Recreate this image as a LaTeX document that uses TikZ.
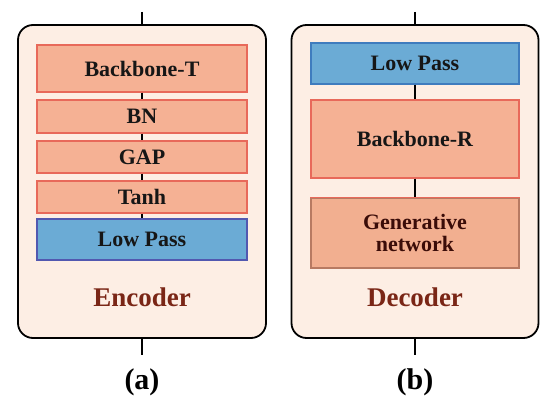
\documentclass[tikz,border=0pt]{standalone}
\usepackage{fontspec}
\newfontfamily\tnr{Liberation Serif}
\begin{document}
\begin{tikzpicture}[x=1pt,y=-1pt,
  panel/.style={draw=black,line width=1.8pt,fill=bgpeach,rounded corners=15pt,inner sep=0pt},
  salmon/.style={draw=salmonedge,line width=1.3pt,fill=salmonfill,inner sep=0pt,text=boxtext,
     font=\tnr\bfseries\fontsize{22}{24}\selectfont,align=center},
  bluebox/.style={draw=blueedge,line width=1.3pt,fill=bluefill,inner sep=0pt,text=boxtext,
     font=\tnr\bfseries\fontsize{22}{24}\selectfont},
  conn/.style={draw=black,line width=1.3pt},
  title/.style={font=\tnr\bfseries\fontsize{27}{30}\selectfont,text=titlered},
  sub/.style={font=\tnr\bfseries\fontsize{30}{32}\selectfont,text=black}]
\definecolor{bgpeach}{HTML}{FDEEE4}
\definecolor{salmonfill}{HTML}{F5B194}
\definecolor{salmonedge}{HTML}{E8695A}
\definecolor{genfill}{HTML}{F2AF90}
\definecolor{genedge}{HTML}{B87A62}
\definecolor{gentext}{HTML}{3A0C08}
\definecolor{bluefill}{HTML}{6BABD5}
\definecolor{blueedge}{HTML}{3F7CBE}
\definecolor{blueedgeB}{HTML}{5258B0}
\definecolor{boxtext}{HTML}{161616}
\definecolor{titlered}{HTML}{7A2616}
\useasboundingbox (0,0) rectangle (550,409);
% panels
\node[panel,minimum width=248pt,minimum height=313pt] (enc) at (142,181.5) {};
\node[panel,minimum width=247pt,minimum height=313pt] (dec) at (415,181.5) {};
% free ends
\coordinate (encin) at (142,12);
\coordinate (encout) at (142,355);
\coordinate (decin) at (415,12);
\coordinate (decout) at (415,355);
% encoder boxes
\node[salmon,minimum width=210pt,minimum height=47pt] (bt) at (142,68.5) {Backbone-T};
\node[salmon,minimum width=210pt,minimum height=33pt] (bn) at (142,116.5) {BN};
\node[salmon,minimum width=210pt,minimum height=32pt] (gap) at (142,157) {GAP};
\node[salmon,minimum width=210pt,minimum height=32pt] (tanh) at (142,197) {Tanh};
\node[bluebox,draw=blueedgeB,minimum width=210pt,minimum height=41pt] (lpa) at (142,239.5) {Low Pass};
\node[title] (enct) at (142,297) {Encoder};
% decoder boxes
\node[bluebox,minimum width=208pt,minimum height=41pt] (lpb) at (415,63.5) {Low Pass};
\node[salmon,minimum width=208pt,minimum height=78pt] (br) at (415,139) {Backbone-R};
\node[salmon,draw=genedge,fill=genfill,minimum width=208pt,minimum height=70pt,text=gentext] (gn) at (415,233) {Generative\\[-2pt]network};
\draw[salmonedge,line width=1.3pt] (gn.north west) -- (gn.north east);
\node[title] (dect) at (415,297) {Decoder};
% connectors
\draw[conn] (encin) -- (enc.north);
\draw[conn] (enc.south) -- (encout);
\draw[conn] (decin) -- (dec.north);
\draw[conn] (dec.south) -- (decout);
\draw[conn] (bt) -- (bn);
\draw[conn] (bn) -- (gap);
\draw[conn] (gap) -- (tanh);
\draw[conn] (tanh) -- (lpa);
\draw[conn] (lpb) -- (br);
\draw[conn] (br) -- (gn);
% captions
\node[sub] (capa) at (142,382) {(a)};
\node[sub] (capb) at (415,382) {(b)};
\end{tikzpicture}
\end{document}
